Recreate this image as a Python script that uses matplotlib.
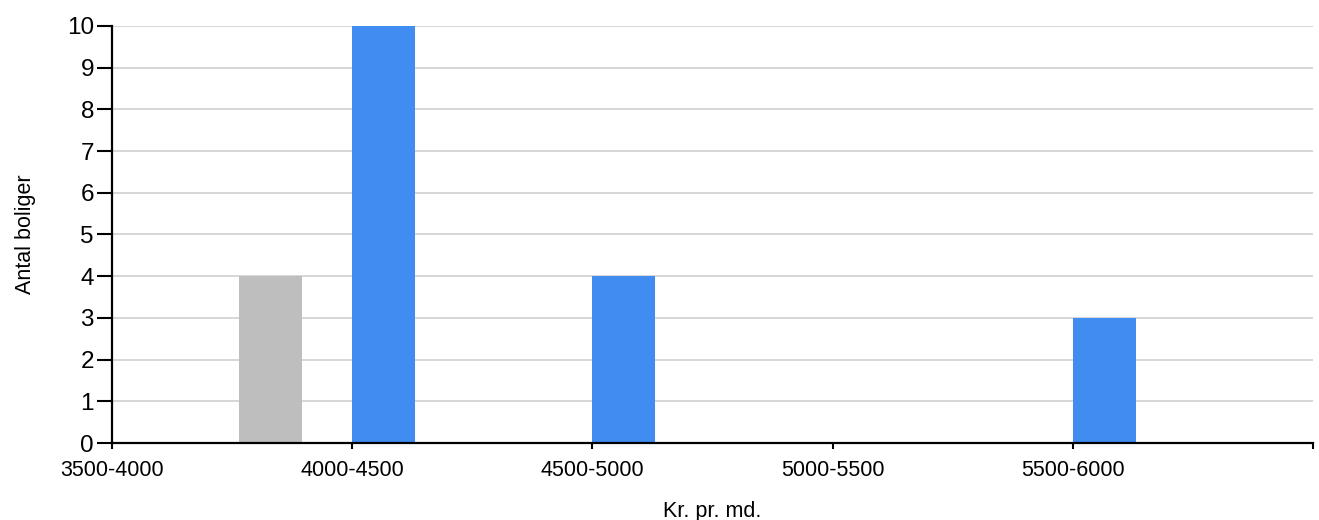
import matplotlib
matplotlib.use("Agg")
import matplotlib.pyplot as plt
import numpy as np

# Price bands (kr. per month) and number of homes in each
categories = ["3500-4000", "4000-4500", "4500-5000", "5000-5500", "5500-6000"]
blue_counts = [0, 10, 4, 0, 3]
gray_counts = [4, 0, 0, 0, 0]

plt.rcParams['font.family'] = ['Liberation Sans', 'DejaVu Sans']

fig = plt.figure(figsize=(13.19, 5.2), dpi=100)
ax = fig.add_axes([112 / 1319, 1 - 443 / 520, 1201 / 1319, 417 / 520])

x = np.arange(len(categories))
bar_w = 0.262
ax.bar(x, blue_counts, width=bar_w, align='edge', color='#418CF0', zorder=3)
ax.bar(x + 0.528, gray_counts, width=bar_w, align='edge', color='#BEBEBE', zorder=3)

ax.set_xlim(0, len(categories))
ax.set_ylim(0, 10)
ax.set_xticks(np.arange(len(categories) + 1))
ax.set_xticklabels(categories + [""], fontsize=15.5)
ax.set_yticks(range(0, 11))
ax.tick_params(axis='y', labelsize=17.5, length=11, width=1.5, pad=2)
ax.tick_params(axis='x', length=4.5, width=1.5, pad=8)

ax.grid(axis='y', color='#d3d3d3', linewidth=1.3, zorder=0)
for side in ['top', 'right']:
    ax.spines[side].set_visible(False)
for side in ['left', 'bottom']:
    ax.spines[side].set_linewidth(1.6)
    ax.spines[side].set_zorder(4)

ax.set_xlabel("Kr. pr. md.", fontsize=15.5, labelpad=14)
ax.set_ylabel("Antal boliger", fontsize=15.5, labelpad=22)

fig.savefig("out.png", dpi=100)
plt.close(fig)
